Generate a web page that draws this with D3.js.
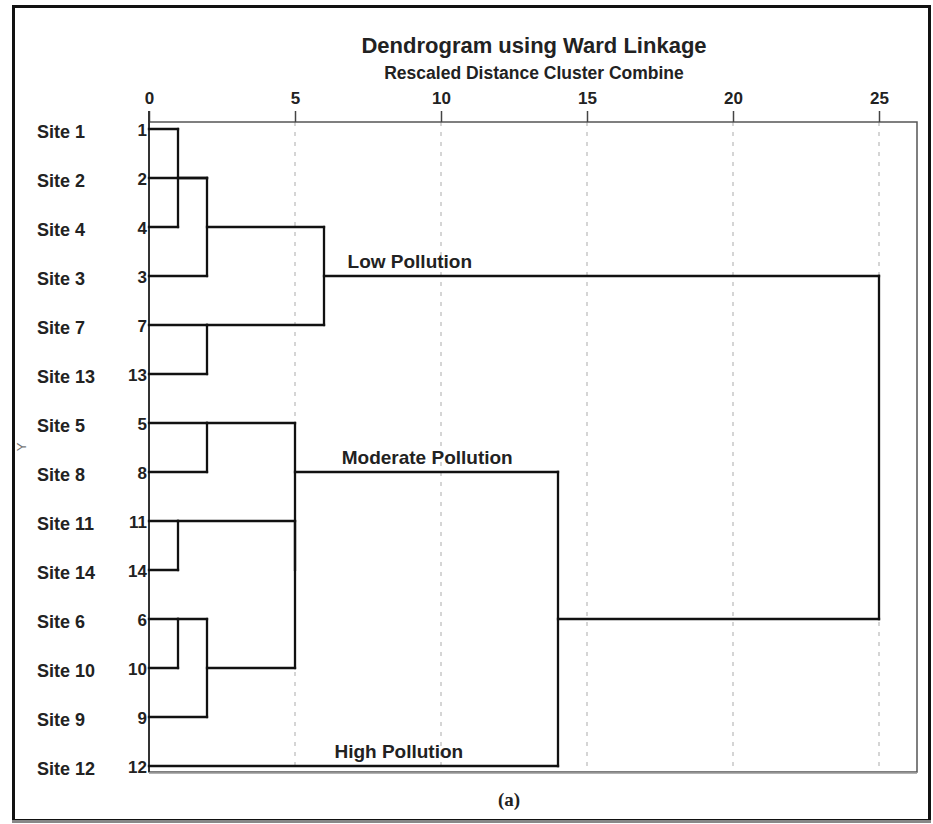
<!DOCTYPE html>
<html>
<head>
<meta charset="utf-8">
<script src="https://cdn.jsdelivr.net/npm/d3@7"></script>
<style>
  body { margin: 0; background: #fff; }
  svg text { font-family: "Liberation Sans", Arial, sans-serif; fill: #222; }
</style>
</head>
<body>
<div id="chart"></div>
<script>
// leaf order as drawn, top to bottom
var siteLabels = ["Site 1","Site 2","Site 4","Site 3","Site 7","Site 13","Site 5","Site 8","Site 11","Site 14","Site 6","Site 10","Site 9","Site 12"];
var caseNums = [1,2,4,3,7,13,5,8,11,14,6,10,9,12];

// agglomeration steps: [first, second, rescaled distance], "sN" = result of step N
var mergeSteps = [
  [1, 4, 1],
  [6, 10, 1],
  [11, 14, 1],
  ["s1", 2, 2],
  ["s4", 3, 2],
  [7, 13, 2],
  [5, 8, 2],
  ["s2", 9, 2],
  ["s3", "s8", 5],
  ["s7", "s9", 5],
  ["s5", "s6", 6],
  ["s10", 12, 14],
  ["s11", "s12", 25]
];

var xTicks = [0, 5, 10, 15, 20, 25];

// cluster annotations: [text, step it labels, offset in distance units]
var clusterNotes = [
  ["Low Pollution", "s11", 0.8],
  ["Moderate Pollution", "s10", 1.6],
  ["High Pollution", 12, 6.35]
];

var W = 933, H = 824;

var svg = d3.select("#chart")
  .append("svg")
    .attr("width", W)
    .attr("height", H);

// outer frame
svg.append("rect")
  .attr("x", 13.5).attr("y", 6.5)
  .attr("width", 916).attr("height", 814)
  .attr("fill", "none")
  .attr("stroke", "#111")
  .attr("stroke-width", 3);
svg.append("line")
  .attr("x1", 12).attr("x2", 931)
  .attr("y1", 821.5).attr("y2", 821.5)
  .attr("stroke", "#888").attr("stroke-width", 3);

var x = d3.scaleLinear()
  .domain([0, 25])
  .range([149, 879]);

var y = d3.scaleLinear()
  .domain([0, caseNums.length - 1])
  .range([129, 766]);

var plotTop = 122, plotBottom = 772, plotRight = 917;

// grid lines
svg.append("g").selectAll("line")
  .data(xTicks.slice(1))
  .enter().append("line")
    .attr("x1", function(d) { return x(d); })
    .attr("x2", function(d) { return x(d); })
    .attr("y1", plotTop).attr("y2", plotBottom)
    .attr("stroke", "#c8c8c8")
    .attr("stroke-width", 1.5)
    .attr("stroke-dasharray", "4,6");

// plot frame
svg.append("rect")
  .attr("x", x(0)).attr("y", plotTop)
  .attr("width", plotRight - x(0)).attr("height", plotBottom - plotTop)
  .attr("fill", "none")
  .attr("stroke", "#555")
  .attr("stroke-width", 1.5);
svg.append("line")
  .attr("x1", x(0)).attr("x2", plotRight)
  .attr("y1", plotBottom + 1).attr("y2", plotBottom + 1)
  .attr("stroke", "#999").attr("stroke-width", 1.5);

// top axis
var axis = svg.append("g")
  .attr("transform", "translate(0," + plotTop + ")")
  .call(d3.axisTop(x).tickValues(xTicks).tickSize(11).tickPadding(7));
axis.select(".domain").remove();
axis.selectAll(".tick line").attr("stroke", "#444").attr("stroke-width", 1.5);
axis.selectAll(".tick text")
  .style("font-family", "Liberation Sans, Arial, sans-serif")
  .style("font-size", "17px")
  .style("font-weight", "bold")
  .attr("fill", "#222");

// left axis line
svg.append("line")
  .attr("x1", x(0)).attr("x2", x(0))
  .attr("y1", plotTop - 11).attr("y2", plotBottom)
  .attr("stroke", "#333").attr("stroke-width", 2);

// titles
svg.append("text")
  .attr("x", 534).attr("y", 53)
  .attr("text-anchor", "middle")
  .style("font-size", "22px")
  .style("font-weight", "bold")
  .text("Dendrogram using Ward Linkage");
svg.append("text")
  .attr("x", 534).attr("y", 79)
  .attr("text-anchor", "middle")
  .style("font-size", "17.5px")
  .style("font-weight", "bold")
  .text("Rescaled Distance Cluster Combine");

// leaf labels
svg.append("g").selectAll("text")
  .data(siteLabels)
  .enter().append("text")
    .attr("x", 37)
    .attr("y", function(d, i) { return y(i) + 9; })
    .style("font-size", "18px")
    .style("font-weight", "bold")
    .text(function(d) { return d; });
svg.append("g").selectAll("text")
  .data(caseNums)
  .enter().append("text")
    .attr("x", 147)
    .attr("y", function(d, i) { return y(i) + 7; })
    .attr("text-anchor", "end")
    .style("font-size", "17px")
    .style("font-weight", "bold")
    .text(function(d) { return d; });

// dendrogram layout
var nodes = {};
caseNums.forEach(function(c, i) { nodes[c] = {row: i, h: 0}; });
var segs = [];
mergeSteps.forEach(function(m, i) {
  var a = nodes[m[0]], b = nodes[m[1]], h = m[2];
  segs.push([a.h, a.row, h, a.row]);
  segs.push([b.h, b.row, h, b.row]);
  segs.push([h, a.row, h, b.row]);
  nodes["s" + (i + 1)] = {row: Math.floor((a.row + b.row) / 2), h: h};
});
// drop zero-length pieces
segs = segs.filter(function(s) { return s[0] != s[2] || s[1] != s[3]; });

svg.append("g").selectAll("line")
  .data(segs)
  .enter().append("line")
    .attr("x1", function(d) { return Math.round(x(d[0])); })
    .attr("y1", function(d) { return Math.round(y(d[1])); })
    .attr("x2", function(d) { return Math.round(x(d[2])); })
    .attr("y2", function(d) { return Math.round(y(d[3])); })
    .attr("stroke", "#111")
    .attr("stroke-width", 2.3)
    .attr("stroke-linecap", "square");

// cluster notes
svg.append("g").selectAll("text")
  .data(clusterNotes)
  .enter().append("text")
    .attr("x", function(d) { return x(nodes[d[1]].h + d[2]); })
    .attr("y", function(d) { return y(nodes[d[1]].row) - 8; })
    .style("font-size", "19px")
    .style("font-weight", "bold")
    .text(function(d) { return d[0]; });

// faint Y axis letter
svg.append("text")
  .attr("transform", "translate(26,447) rotate(-90)")
  .attr("text-anchor", "middle")
  .style("font-size", "13px")
  .style("fill", "#777")
  .text("Y");

// panel tag
svg.append("text")
  .attr("x", 509).attr("y", 806)
  .attr("text-anchor", "middle")
  .style("font-family", "Liberation Serif, serif")
  .style("font-size", "19px")
  .style("font-weight", "bold")
  .text("(a)");
</script>
</body>
</html>
